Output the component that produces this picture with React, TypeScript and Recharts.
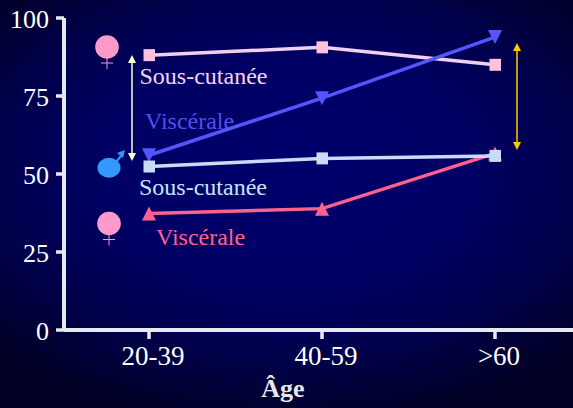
import { LineChart, Line, XAxis, YAxis } from 'recharts'

const ageGroups = ['20-39', '40-59', '>60']
const yTicks = [0, 25, 50, 75, 100]

const femmesSousCutanee = [88.1, 90.6, 85]
const hommesViscerale = [56, 74.3, 93.9]
const hommesSousCutanee = [52.4, 55, 55.8]
const femmesViscerale = [37.3, 38.9, 56.6]

const chartData = ageGroups.map((age, i) => ({
  age,
  femmesSousCutanee: femmesSousCutanee[i],
  hommesViscerale: hommesViscerale[i],
  hommesSousCutanee: hommesSousCutanee[i],
  femmesViscerale: femmesViscerale[i],
}))

const font = '"Liberation Serif", serif'
const axisColor = '#e8e8f0'

// Markers for the series
function Square({ cx, cy, fill }: any) {
  return <rect x={cx - 5.5} y={cy - 6} width={11.5} height={12} fill={fill} />
}

function TriangleUp({ cx, cy, fill }: any) {
  return <path d={`M${cx} ${cy - 7} L${cx + 7} ${cy + 7} L${cx - 7} ${cy + 7} Z`} fill={fill} />
}

function TriangleDown({ cx, cy, fill }: any) {
  return <path d={`M${cx - 7} ${cy - 7} L${cx + 7} ${cy - 7} L${cx} ${cy + 7} Z`} fill={fill} />
}

function Female({ cx, cy }: { cx: number; cy: number }) {
  return (
    <g>
      <circle cx={cx} cy={cy} r={11.8} fill="#ff99cc" />
      <path d={`M${cx} ${cy + 11} V${cy + 22} M${cx - 6} ${cy + 16} H${cx + 6}`} stroke="#ff99cc" strokeWidth={1} fill="none" />
    </g>
  )
}

function DoubleArrow({ x, y1, y2, color }: { x: number; y1: number; y2: number; color: string }) {
  return (
    <g>
      <line x1={x} x2={x} y1={y1 + 6} y2={y2 - 6} stroke={color} strokeWidth={1.5} />
      <path d={`M${x} ${y1} L${x + 4} ${y1 + 8} L${x - 4} ${y1 + 8} Z`} fill={color} />
      <path d={`M${x} ${y2} L${x + 4} ${y2 - 8} L${x - 4} ${y2 - 8} Z`} fill={color} />
    </g>
  )
}

function Note({ x, y, color, children }: { x: number; y: number; color: string; children: string }) {
  return (
    <text x={x} y={y} fill={color} fontFamily={font} fontSize={24}>
      {children}
    </text>
  )
}

export default function App() {
  return (
    <div
      style={{
        position: 'absolute',
        left: 0,
        top: 0,
        width: 573,
        height: 408,
        overflow: 'hidden',
        background: 'radial-gradient(ellipse 70% 62% at 50% 42%, #00006c 0%, #000064 45%, #00004c 72%, #000026 100%)',
      }}
    >
      <LineChart
        width={582}
        height={408}
        data={chartData}
        margin={{ top: 18, right: 0, bottom: 0, left: 0 }}
      >
        <XAxis
          dataKey="age"
          height={78}
          padding={{ left: 85, right: 87 }}
          axisLine={{ stroke: axisColor, strokeWidth: 4 }}
          tickLine={{ stroke: axisColor, strokeWidth: 3.5 }}
          tickSize={9}
          tickMargin={7}
          tick={{ fill: '#ffffff', fontFamily: font, fontSize: 27, dx: 4 }}
        />
        <YAxis
          width={64}
          domain={[0, 100]}
          ticks={yTicks}
          axisLine={{ stroke: axisColor, strokeWidth: 4 }}
          tickLine={{ stroke: axisColor, strokeWidth: 3.5 }}
          tickSize={8}
          tickMargin={7}
          tick={{ fill: '#ffffff', fontFamily: font, fontSize: 26, dy: 1 }}
        />
        <Line dataKey="femmesSousCutanee" stroke="#f0d0f0" strokeWidth={3.5} fill="#ffc0dc" dot={<Square fill="#ffc0dc" />} isAnimationActive={false} />
        <Line dataKey="hommesViscerale" stroke="#5555ff" strokeWidth={3.5} fill="#5555ff" dot={<TriangleDown fill="#5555ff" />} isAnimationActive={false} />
        <Line dataKey="femmesViscerale" stroke="#ff6090" strokeWidth={3.5} fill="#ff6090" dot={<TriangleUp fill="#ff6090" />} isAnimationActive={false} />
        <Line dataKey="hommesSousCutanee" stroke="#c8dcf8" strokeWidth={3.5} fill="#c8dcf8" dot={<Square fill="#c8dcf8" />} isAnimationActive={false} />

        <Female cx={107} cy={47} />
        <Female cx={109} cy={223.5} />
        <ellipse cx={109} cy={167.7} rx={11.5} ry={10} fill="#3399ff" />
        <line x1={116} y1={162} x2={121} y2={156} stroke="#3399ff" strokeWidth={2} />
        <path d="M125 150 L123 158 L117 153 Z" fill="#3399ff" />
        <DoubleArrow x={132} y1={55} y2={161} color="#ffffcc" />
        <DoubleArrow x={517} y1={43} y2={150} color="#ffcc00" />
        <line x1={55} x2={62} y1={330} y2={330} stroke="#000000" strokeWidth={3.5} />
        <line x1={55} x2={62} y1={18} y2={18} stroke="#000000" strokeWidth={3.5} />

        <text x={283} y={397} textAnchor="middle" fill="#e8e8e8" fontFamily={font} fontSize={26} fontWeight="bold">
          Âge
        </text>
        <Note x={139.5} y={83.5} color="#f4d4f4">Sous-cutanée</Note>
        <Note x={145} y={128.5} color="#5050f0">Viscérale</Note>
        <Note x={139} y={194.5} color="#c8e4f8">Sous-cutanée</Note>
        <Note x={156} y={244.5} color="#ff6090">Viscérale</Note>
      </LineChart>
    </div>
  )
}
